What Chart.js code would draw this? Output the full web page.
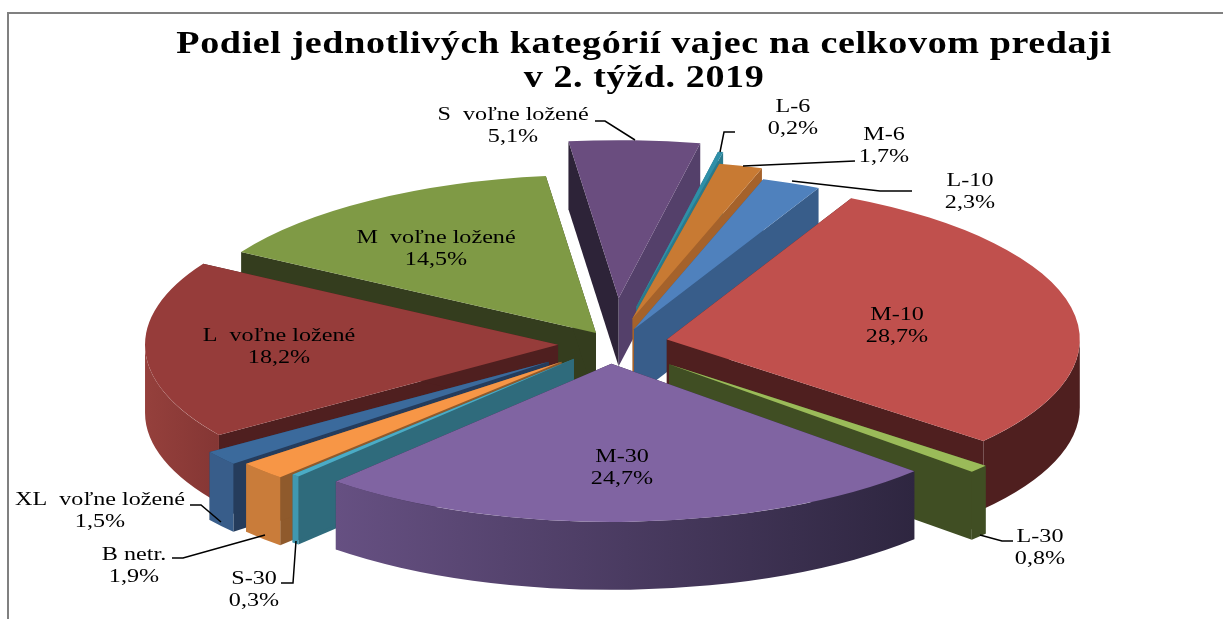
<!DOCTYPE html>
<html lang="sk">
<head>
<meta charset="utf-8">
<title>Podiel kategórií vajec</title>
<script src="https://cdn.jsdelivr.net/npm/chart.js@4/dist/chart.umd.min.js"></script>
<style>
  html, body { margin: 0; padding: 0; background: #fff; overflow: hidden; }
  #wrap { position: relative; width: 1223px; height: 619px; }
  #frame { position: absolute; left: 7px; top: 12px; right: 0; bottom: 0; border-left: 2px solid #808080; border-top: 2px solid #808080; }
  canvas { position: absolute; left: 0; top: 0; }
</style>
</head>
<body>
<div id="wrap">
  <div id="frame"></div>
  <canvas id="eggChart" width="1223" height="619"></canvas>
</div>
<script>
// Data
const titleLines = ['Podiel jednotlivých kategórií vajec na celkovom predaji', 'v 2. týžd. 2019'];
const categories = ['L-6', 'M-6', 'L-10', 'M-10', 'L-30', 'M-30', 'S-30', 'B netr.', 'XL  voľne ložené', 'L  voľne ložené', 'M  voľne ložené', 'S  voľne ložené'];
const shares = [0.2, 1.7, 2.3, 28.7, 0.8, 24.7, 0.3, 1.9, 1.5, 18.2, 14.5, 5.1];

// Colours per slice
const topColors = ['#2F8FA8', '#C87A33', '#4F81BD', '#C0504D', '#9BBB59', '#8064A2', '#4BACC6', '#F79646', '#3B6A9C', '#963C3A', '#7F9A45', '#6A4D7F'];
const wallLeft = ['#2A7A8C', '#A5622B', '#385D8A', '#4F1F1F', '#404E23', '#665082', '#4098B0', '#C97C3A', '#385D8A', '#95403C', '#343D1E', '#54406A'];
const wallRight = ['#2A7A8C', '#A5622B', '#385D8A', '#4F1F1F', '#404E23', '#2E2640', '#4098B0', '#C97C3A', '#385D8A', '#843634', '#343D1E', '#54406A'];
const cutStart = ['#2A7A8C', '#A5622B', '#385D8A', '#4F1F1F', '#404E23', '#2E2640', '#2F6B7C', '#8F5A2C', '#253C5C', '#4F1F1F', '#343D1E', '#2D2338'];
const cutEnd = ['#2A7A8C', '#A5622B', '#385D8A', '#4F1F1F', '#404E23', '#2E2640', '#2F6B7C', '#8F5A2C', '#253C5C', '#4F1F1F', '#343D1E', '#54406A'];

// How far each slice is pulled out of the pie, plus small corrections
const explode = [100, 75, 50, 57, 80, 52, 52, 67, 76, 51, 22, 120];
const nudgeX = [7, 4, 6, 2, 0, 0, 0, 1, 0, 0, -1, 5];
const nudgeY = [0, 2, 3, 0, 0, 0, 0, 0, 0, 0, -4, 0];

// 3D look of the pie
const pieX = 609, pieY = 344, radiusX = 413, radiusY = 158, depth = 68;

// Title is stretched sideways around its own centre
const titleCentre = 644, titleStretch = 1.19;

// Label centres, same order as categories
const labelX = [793, 884, 970, 897, 1040, 622, 254, 134, 100, 279, 436, 513];
const labelY = [107, 135, 181, 315, 537, 457, 579, 555, 500, 336, 238, 115];
const lineGap = 22;
const labelStretch = 1.27;

// Leader lines of the small slices
const leaders = [
  [[735, 132], [724, 132], [720, 152]],
  [[855, 161], [743, 166]],
  [[912, 191], [880, 191], [792, 181]],
  [[1013, 541], [1002, 541], [980, 535]],
  [[281, 583], [293, 583], [296, 541]],
  [[172, 558], [183, 558], [265, 535]],
  [[190, 505], [201, 505], [221, 522]],
  [[595, 121], [605, 121], [635, 140]]
];

function wall(ctx, arc, i, cx, cy) {
  // only the part of the rim that faces the viewer
  for (let k = 0; k < 2; k++) {
    const lo = Math.max(arc.startAngle, 2 * Math.PI * k);
    const hi = Math.min(arc.endAngle, Math.PI + 2 * Math.PI * k);
    if (lo >= hi) continue;
    const x0 = cx + radiusX * Math.cos(hi), x1 = cx + radiusX * Math.cos(lo);
    const grad = ctx.createLinearGradient(Math.min(x0, x1), 0, Math.max(x0, x1) + 1, 0);
    grad.addColorStop(0, wallLeft[i]);
    grad.addColorStop(1, wallRight[i]);
    ctx.beginPath();
    ctx.ellipse(cx, cy, radiusX, radiusY, 0, lo, hi);
    ctx.ellipse(cx, cy + depth, radiusX, radiusY, 0, hi, lo, true);
    ctx.closePath();
    ctx.fillStyle = grad;
    ctx.fill();
  }
}

function cutFace(ctx, angle, color, cx, cy) {
  const ex = cx + radiusX * Math.cos(angle), ey = cy + radiusY * Math.sin(angle);
  ctx.beginPath();
  ctx.moveTo(cx, cy);
  ctx.lineTo(ex, ey);
  ctx.lineTo(ex, ey + depth);
  ctx.lineTo(cx, cy + depth);
  ctx.closePath();
  ctx.fillStyle = color;
  ctx.fill();
}

const pie3d = {
  id: 'pie3d',
  beforeDraw(chart) {
    // the title box is drawn right after this hook
    chart.ctx.save();
    chart.ctx.letterSpacing = '0.5px';
    chart.ctx.setTransform(titleStretch, 0, 0, 1, titleCentre * (1 - titleStretch), 0);
  },
  beforeDatasetsDraw(chart) {
    const ctx = chart.ctx;
    ctx.restore();
    const arcs = chart.getDatasetMeta(0).data;
    const flat = radiusY / radiusX;
    // back slices first
    const order = arcs.map((a, i) => i).sort((p, q) => {
      return Math.sin((arcs[p].startAngle + arcs[p].endAngle) / 2) - Math.sin((arcs[q].startAngle + arcs[q].endAngle) / 2);
    });
    order.forEach(i => {
      const arc = arcs[i];
      const mid = (arc.startAngle + arc.endAngle) / 2;
      const cx = pieX + nudgeX[i] + explode[i] * Math.cos(mid);
      const cy = pieY + nudgeY[i] + explode[i] * flat * Math.sin(mid);
      cutFace(ctx, arc.startAngle, cutStart[i], cx, cy);
      cutFace(ctx, arc.endAngle, cutEnd[i], cx, cy);
      wall(ctx, arc, i, cx, cy);
      ctx.save();
      ctx.translate(cx, cy);
      ctx.scale(radiusX / arc.outerRadius, radiusY / arc.outerRadius);
      ctx.translate(-arc.x, -arc.y);
      arc.draw(ctx);
      ctx.restore();
    });
    return false;
  },
  afterDraw(chart) {
    const ctx = chart.ctx;
    ctx.save();
    ctx.strokeStyle = '#000';
    ctx.lineWidth = 1.5;
    leaders.forEach(pts => {
      ctx.beginPath();
      pts.forEach((p, n) => n ? ctx.lineTo(p[0], p[1]) : ctx.moveTo(p[0], p[1]));
      ctx.stroke();
    });
    ctx.font = '19px "Liberation Serif"';
    ctx.fillStyle = '#000';
    ctx.textAlign = 'center';
    ctx.textBaseline = 'middle';
    categories.forEach((name, i) => {
      const pct = shares[i].toFixed(1).replace('.', ',') + '%';
      [name, pct].forEach((line, n) => {
        ctx.save();
        ctx.translate(labelX[i], labelY[i] + n * lineGap);
        ctx.scale(labelStretch, 1);
        ctx.fillText(line, 0, 0);
        ctx.restore();
      });
    });
    ctx.restore();
  }
};

new Chart(document.getElementById('eggChart').getContext('2d'), {
  type: 'pie',
  data: {
    labels: categories,
    datasets: [{ data: shares, backgroundColor: topColors, borderWidth: 0 }]
  },
  options: {
    responsive: false,
    animation: false,
    rotation: 11.4,
    layout: { padding: { left: 65 } },
    plugins: {
      legend: { display: false },
      tooltip: { enabled: false },
      title: {
        display: true,
        text: titleLines,
        color: '#000',
        font: { family: '"Liberation Serif"', size: 32, weight: 'bold', lineHeight: 1.06 },
        padding: { top: 28, bottom: 6 }
      }
    }
  },
  plugins: [pie3d]
});
</script>
</body>
</html>
